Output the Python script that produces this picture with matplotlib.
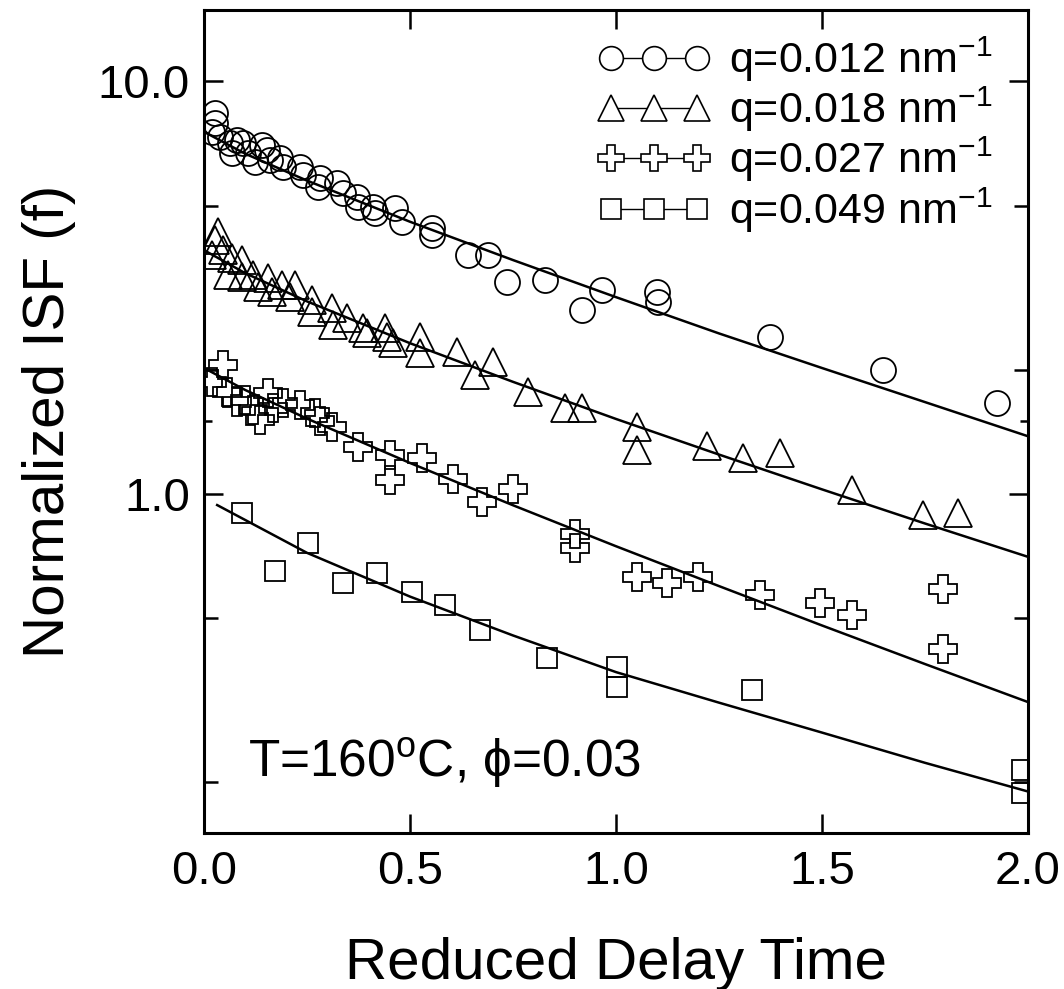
"""Normalized ISF vs reduced delay time, four scattering vectors."""

import matplotlib

matplotlib.use("Agg")
import matplotlib.pyplot as plt
from matplotlib.ticker import FixedLocator, FuncFormatter, NullFormatter

plt.rcParams["font.family"] = ["Liberation Sans", "DejaVu Sans"]
plt.rcParams["mathtext.fontset"] = "custom"
plt.rcParams["mathtext.rm"] = "Liberation Sans"
plt.rcParams["mathtext.it"] = "Liberation Sans:italic"

LABELS = [
    "q=0.012 nm$^{-1}$",
    "q=0.018 nm$^{-1}$",
    "q=0.027 nm$^{-1}$",
    "q=0.049 nm$^{-1}$",
]

q012_x = [0.027, 0.027, 0.019, 0.039, 0.063, 0.08, 0.068, 0.095, 0.107, 0.14,
          0.153, 0.124, 0.16, 0.184, 0.192, 0.233, 0.24, 0.282, 0.277, 0.323,
          0.337, 0.371, 0.374, 0.41, 0.415, 0.464, 0.48, 0.553, 0.553, 0.641,
          0.689, 0.735, 0.828, 0.917, 0.966, 1.099, 1.102, 1.374, 1.648, 1.925]
q012_y = [8.39, 7.93, 7.55, 7.33, 7.09, 7.2, 6.71, 7.09, 6.71, 7.02,
          6.82, 6.38, 6.45, 6.52, 6.21, 6.21, 5.93, 5.83, 5.55, 5.67,
          5.37, 5.25, 4.96, 4.96, 4.8, 4.94, 4.56, 4.41, 4.25, 3.8,
          3.8, 3.27, 3.3, 2.79, 3.12, 3.09, 2.92, 2.4, 2.0, 1.66]

q018_x = [0.034, 0.027, 0.019, 0.046, 0.068, 0.058, 0.092, 0.092, 0.119, 0.131,
          0.155, 0.165, 0.189, 0.221, 0.209, 0.262, 0.262, 0.311, 0.313, 0.347,
          0.386, 0.396, 0.439, 0.444, 0.459, 0.524, 0.524, 0.614, 0.701, 0.658,
          0.786, 0.876, 0.917, 1.051, 1.051, 1.221, 1.308, 1.398, 1.573, 1.745,
          1.83]
q018_y = [4.32, 4.13, 3.8, 3.9, 3.73, 3.4, 3.69, 3.36, 3.4, 3.18,
          3.34, 3.09, 3.21, 3.21, 3.0, 2.95, 2.76, 2.82, 2.57, 2.67,
          2.53, 2.45, 2.53, 2.4, 2.32, 2.4, 2.2, 2.21, 2.09, 1.94,
          1.77, 1.62, 1.62, 1.45, 1.28, 1.31, 1.22, 1.26, 1.02, 0.89,
          0.90]

q027_x = [0.046, 0.019, 0.056, 0.08, 0.1, 0.119, 0.136, 0.155, 0.167, 0.192,
          0.233, 0.27, 0.282, 0.311, 0.374, 0.451, 0.451, 0.529, 0.604, 0.675,
          0.75, 0.9, 0.9, 1.051, 1.124, 1.199, 1.35, 1.495, 1.573, 1.794,
          1.794]
q027_y = [2.05, 1.87, 1.77, 1.67, 1.69, 1.6, 1.51, 1.76, 1.62, 1.66,
          1.64, 1.57, 1.5, 1.45, 1.3, 1.24, 1.08, 1.22, 1.09, 0.956,
          1.03, 0.80, 0.74, 0.63, 0.61, 0.63, 0.57, 0.544, 0.51, 0.59,
          0.42]

q049_x = [0.092, 0.172, 0.252, 0.337, 0.42, 0.505, 0.585, 0.67, 0.833, 1.002,
          1.002, 1.33, 1.985, 1.985]
q049_y = [0.90, 0.65, 0.76, 0.61, 0.643, 0.579, 0.538, 0.468, 0.40, 0.381,
          0.34, 0.335, 0.214, 0.188]

# fitted curves
fit_x = [0.0, 0.1, 0.25, 0.5, 0.75, 1.0, 1.25, 1.5, 1.75, 2.0]
fit012 = [7.55, 6.68, 5.75, 4.57, 3.69, 3.00, 2.45, 2.02, 1.67, 1.38]
fit018 = [3.9, 3.43, 2.93, 2.32, 1.87, 1.52, 1.246, 1.026, 0.848, 0.704]
fit027 = [2.02, 1.787, 1.523, 1.189, 0.939, 0.747, 0.598, 0.480, 0.387, 0.313]
fit049_x = [0.032, 0.25, 0.5, 0.75, 1.0, 1.25, 1.5, 1.75, 2.0]
fit049 = [0.94, 0.72, 0.564, 0.454, 0.37, 0.312, 0.264, 0.223, 0.19]


def main():
    fig = plt.figure(figsize=(10.64, 9.89), dpi=100)
    ax = fig.add_axes([0.1917, 0.1577, 0.7745, 0.8322])

    series = [
        (q012_x, q012_y, "o", 18, LABELS[0]),
        (q018_x, q018_y, "^", 20, LABELS[1]),
        (q027_x, q027_y, "P", 20, LABELS[2]),
        (q049_x, q049_y, "s", 15, LABELS[3]),
    ]
    for xs, ys, marker, size, label in series:
        ax.plot(xs, ys, linestyle="none", marker=marker, markersize=size,
                markerfacecolor="none", markeredgecolor="black",
                markeredgewidth=1.3, label=label)

    # proxy handles for the legend: markers joined by a thin line
    handles = []
    for xs, ys, marker, size, label in series:
        (h,) = ax.plot([], [], color="black", lw=1.0, marker=marker,
                       markersize=size * 0.95, markerfacecolor="white",
                       markeredgecolor="black", markeredgewidth=1.2)
        handles.append(h)

    for fx, fy in [(fit_x, fit012), (fit_x, fit018), (fit_x, fit027),
                   (fit049_x, fit049)]:
        ax.plot(fx, fy, color="black", lw=1.8, zorder=1)

    ax.set_yscale("log")
    ax.set_xlim(0, 2)
    ax.set_ylim(0.1507, 14.9)

    ax.xaxis.set_major_locator(FixedLocator([0, 0.5, 1.0, 1.5, 2.0]))
    ax.xaxis.set_major_formatter(FuncFormatter(lambda v, p: f"{v:.1f}"))
    ax.yaxis.set_major_locator(FixedLocator([1.0, 10.0]))
    ax.yaxis.set_major_formatter(FuncFormatter(lambda v, p: f"{v:.1f}"))
    ax.yaxis.set_minor_locator(FixedLocator([0.2, 0.5, 1.5, 2.0, 5.0]))
    ax.yaxis.set_minor_formatter(NullFormatter())
    ax.xaxis.set_minor_locator(FixedLocator([]))

    ax.tick_params(axis="both", which="major", direction="in", length=14,
                   width=1.8, labelsize=34, top=True, right=True)
    ax.tick_params(axis="y", which="minor", direction="in", length=10,
                   width=1.8, left=True, right=True)
    ax.tick_params(axis="x", which="major", pad=12)
    ax.tick_params(axis="y", which="major", pad=10)

    # the 1.5 tick is drawn shorter in the original
    minor_locs = ax.yaxis.get_minorticklocs()
    for loc, tick in zip(minor_locs, ax.yaxis.get_minor_ticks(len(minor_locs))):
        if abs(loc - 1.5) < 1e-6:
            tick.tick1line.set_markersize(5.5)
            tick.tick2line.set_markersize(5.5)

    for spine in ax.spines.values():
        spine.set_linewidth(2.2)

    ax.set_xlabel("Reduced Delay Time", fontsize=42, labelpad=31)
    ax.set_ylabel("Normalized ISF (f)", fontsize=42, labelpad=16)

    ax.text(0.053, 0.068, "T=160$^{\\rm o}$C, ϕ=0.03", transform=ax.transAxes,
            fontsize=37, ha="left", va="baseline")

    ax.legend(handles, LABELS, loc="upper right", bbox_to_anchor=(0.973, 0.986),
              frameon=False, fontsize=31, numpoints=3, handlelength=2.6,
              handletextpad=0.45, labelspacing=0.02, borderpad=0.3,
              borderaxespad=0.0)

    fig.savefig("out.png", dpi=100)
    plt.close(fig)


if __name__ == "__main__":
    main()
